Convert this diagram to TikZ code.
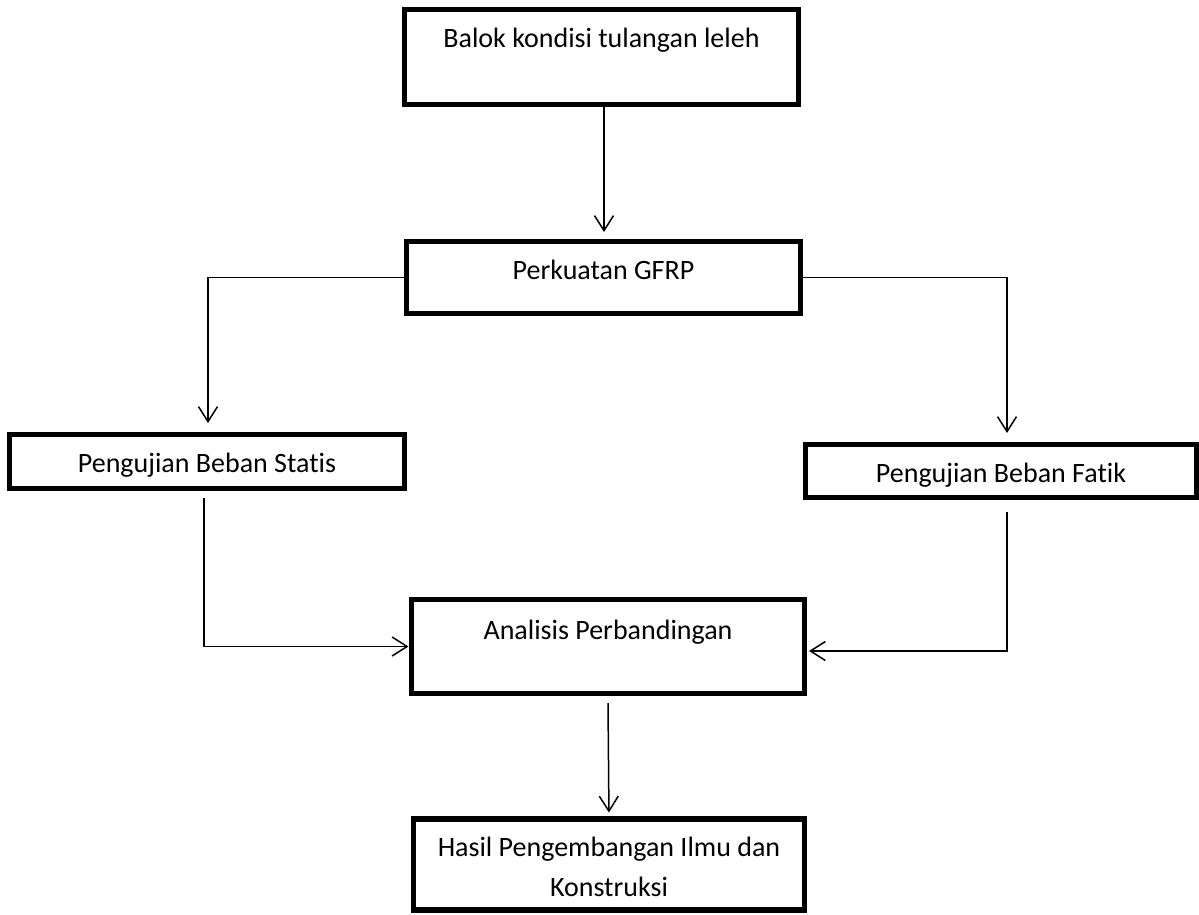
\documentclass[tikz,border=0pt]{standalone}
\usepackage{fontspec}
\setmainfont{Carlito}[Ligatures=NoCommon]
\usetikzlibrary{arrows.meta}
\begin{document}
\begin{tikzpicture}[x=1pt,y=-1pt,
  box/.style={draw=black, line width=5.5pt, rectangle, inner sep=0pt, outer sep=0pt},
  txt/.style={font=\fontsize{28}{40}\selectfont, inner sep=0pt, align=center, text=black},
  arr/.style={line width=1.5pt, -{Straight Barb[length=15pt,width=19pt,line width=1.5pt]}},
  ln/.style={line width=1.5pt}
]
\useasboundingbox (0,0) rectangle (1199,914);
% boxes
\node[box, minimum width=394pt, minimum height=95pt] (b1) at (601.5,57) {};
\node[box, minimum width=394pt, minimum height=72pt] (b2) at (603.5,277.5) {};
\node[box, minimum width=395pt, minimum height=54pt] (b3) at (207,461.5) {};
\node[box, minimum width=391pt, minimum height=53pt] (b4) at (1001,471) {};
\node[box, minimum width=393pt, minimum height=94pt] (b5) at (608,646.5) {};
\node[box, minimum width=391pt, minimum height=91pt] (b6) at (609,864.5) {};
% texts
\node[txt] (t1) at (601.5,40) {Balok kondisi tulangan leleh};
\node[txt] (t2) at (603.5,270) {Perkuatan GFRP};
\node[txt] (t3) at (207,465) {Pengujian Beban Statis};
\node[txt] (t4) at (1001,475) {Pengujian Beban Fatik};
\node[txt] (t5) at (608,632) {Analisis Perbandingan};
\node[txt, anchor=base] (t6) at (609,896) {Hasil Pengembangan Ilmu dan\\Konstruksi};
% connectors
\draw[arr, shorten >=9.5pt] ([xshift=2.5pt]b1.south) -- ([xshift=0.5pt]b2.north);
\draw[arr, shorten >=11.5pt] (b2.west) -| ([xshift=1pt]b3.north);
\draw[arr, shorten >=11.5pt] (b2.east) -| ([xshift=6pt]b4.north);
\draw[arr, shorten >=3pt] ([xshift=-3pt,yshift=-9.5pt]b3.south) |- (b5.west);
\draw[arr, shorten >=4.5pt] ([xshift=6pt,yshift=-14.5pt]b4.south) |- ([yshift=-4.5pt]b5.east);
\draw[arr, shorten >=6.5pt] ([yshift=-9.5pt]b5.south) -- (b6.north);
\end{tikzpicture}
\end{document}
